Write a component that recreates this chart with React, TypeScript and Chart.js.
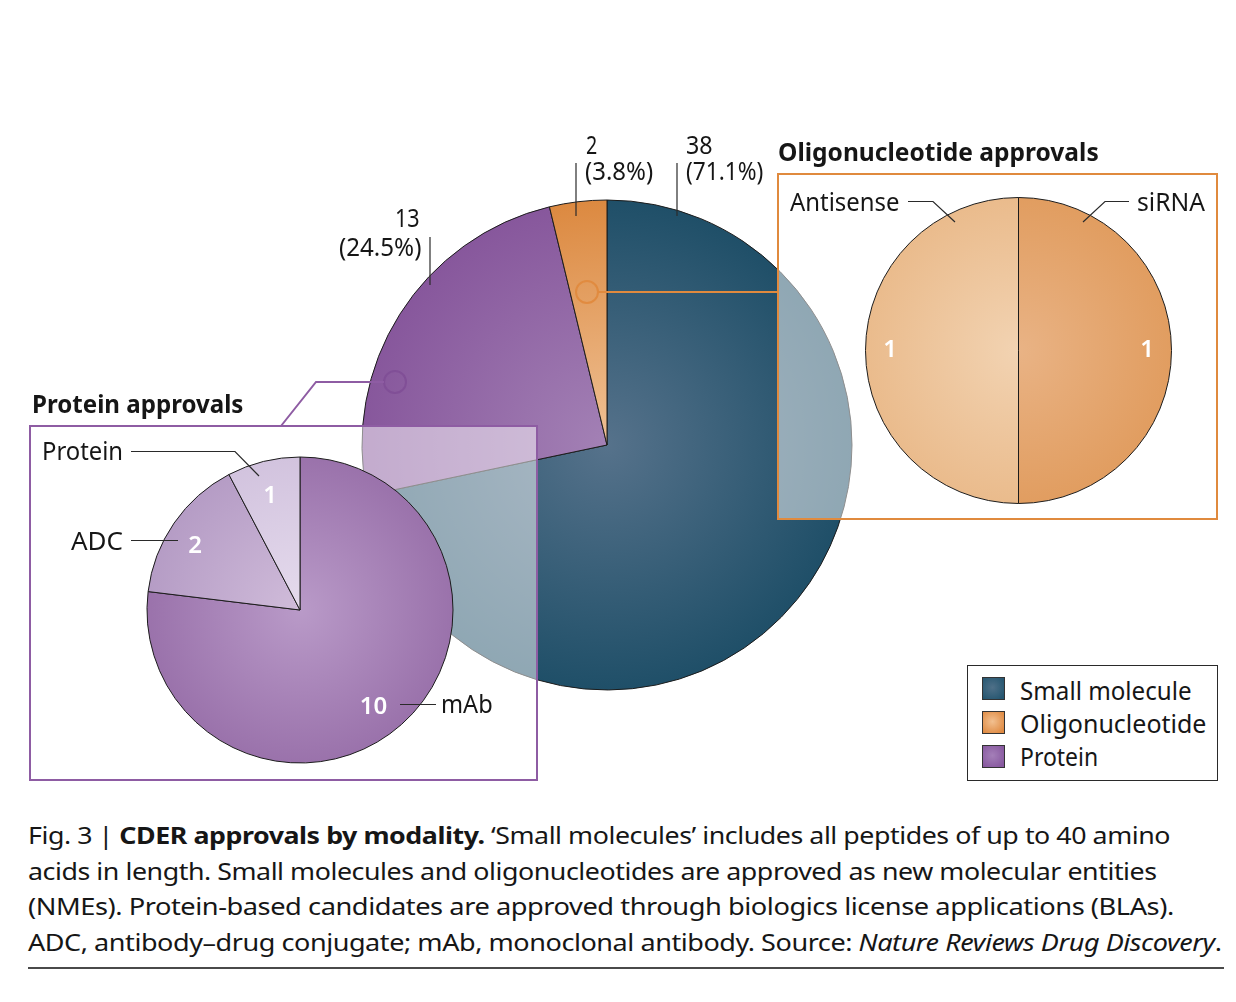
import React, { useEffect, useLayoutEffect, useRef } from "react";
import { Chart, registerables } from "chart.js";

Chart.register(...registerables);

// ---------------- data ----------------
const mainCategories = ["Small molecule", "Protein", "Oligonucleotide"];
const mainValues = [38, 13, 2];
const mainPercents = ["71.1", "24.5", "3.8"];

const proteinCategories = ["mAb", "ADC", "Protein"];
const proteinValues = [10, 2, 1];

const oligoCategories = ["siRNA", "Antisense"];
const oligoValues = [1, 1];

const legendCategories = ["Small molecule", "Oligonucleotide", "Protein"];

// ---------------- styles ----------------
const FONT = '"Noto Sans", "Open Sans", sans-serif';
const ORANGE = "#e08a3e";
const PURPLE = "#8e5ca3";
const LEADER = "#2a2a2a";

type Grad = [string, string];
const MAIN_GRADS: Grad[] = [
  ["#56728b", "#1f4f68"],
  ["#a381b5", "#87579c"],
  ["#efc195", "#dc8940"],
];
const PROTEIN_GRADS: Grad[] = [
  ["#b99ac8", "#9a72ab"],
  ["#d0bcda", "#b59cc5"],
  ["#e5dbed", "#d2c3de"],
];
const OLIGO_GRADS: Grad[] = [
  ["#e9b385", "#e19d60"],
  ["#f2d3b2", "#eabb8c"],
];

const LEGEND_GRADS: Record<string, Grad> = {
  "Small molecule": ["#4f7088", "#255670"],
  Oligonucleotide: ["#f2c090", "#df8a42"],
  Protein: ["#a47fb8", "#87589f"],
};

type Rect = [number, number, number, number];
type Pt = [number, number];

function polyline(ctx: CanvasRenderingContext2D, pts: Pt[], ox: number, oy: number, color: string, lw: number) {
  ctx.save();
  ctx.beginPath();
  pts.forEach(([x, y], i) => (i ? ctx.lineTo(x - ox, y - oy) : ctx.moveTo(x - ox, y - oy)));
  ctx.strokeStyle = color;
  ctx.lineWidth = lw;
  ctx.lineJoin = "miter";
  ctx.stroke();
  ctx.restore();
}

function ring(ctx: CanvasRenderingContext2D, x: number, y: number, r: number, ox: number, oy: number, color: string) {
  ctx.save();
  ctx.beginPath();
  ctx.arc(x - ox, y - oy, r, 0, Math.PI * 2);
  ctx.strokeStyle = color;
  ctx.lineWidth = 2;
  ctx.stroke();
  ctx.restore();
}

function boxDraw(ctx: CanvasRenderingContext2D, box: Rect, ox: number, oy: number, color: string) {
  ctx.save();
  ctx.fillStyle = "rgba(255,255,255,0.5)";
  ctx.fillRect(box[0] - ox, box[1] - oy, box[2], box[3]);
  ctx.strokeStyle = color;
  ctx.lineWidth = 2;
  ctx.strokeRect(box[0] - ox, box[1] - oy, box[2], box[3]);
  ctx.restore();
}

type PieProps = {
  rect: Rect;
  cx: number;
  cy: number;
  r: number;
  labels: string[];
  values: number[];
  grads: Grad[];
  z: number;
  before?: (ctx: CanvasRenderingContext2D, ox: number, oy: number) => void;
  after?: (ctx: CanvasRenderingContext2D, ox: number, oy: number) => void;
};

function PieCanvas({ rect, cx, cy, r, labels, values, grads, z, before, after }: PieProps) {
  const ref = useRef<HTMLCanvasElement>(null);
  const [bx, by, bw, bh] = rect;
  useEffect(() => {
    const canvas = ref.current!;
    const padding = {
      left: cx - r - 0.5 - bx,
      top: cy - r - 0.5 - by,
      right: bx + bw - (cx + r + 0.5),
      bottom: by + bh - (cy + r + 0.5),
    };
    const chart = new Chart(canvas, {
      type: "pie",
      data: {
        labels,
        datasets: [
          {
            data: values,
            backgroundColor: (c: any) => {
              const g = grads[c.dataIndex] || grads[0];
              const a = c.chart.chartArea;
              if (!a) return g[1];
              const x = (a.left + a.right) / 2;
              const y = (a.top + a.bottom) / 2;
              const rr = Math.min(a.right - a.left, a.bottom - a.top) / 2;
              const grad = c.chart.ctx.createRadialGradient(x, y, 0, x, y, rr);
              grad.addColorStop(0, g[0]);
              grad.addColorStop(1, g[1]);
              return grad;
            },
            borderColor: "#1c1c1c",
            borderWidth: 1,
            hoverBorderWidth: 1,
            hoverOffset: 0,
            offset: 0,
          } as any,
        ],
      },
      options: {
        responsive: false,
        maintainAspectRatio: false,
        animation: false,
        events: [],
        layout: { padding },
        plugins: { legend: { display: false }, tooltip: { enabled: false } },
      } as any,
      plugins: [
        {
          id: "deco",
          beforeDatasetsDraw(ch: any) {
            if (before) before(ch.ctx, bx, by);
          },
          afterDatasetsDraw(ch: any) {
            if (after) after(ch.ctx, bx, by);
          },
        },
      ],
    });
    return () => chart.destroy();
  }, []);
  return (
    <canvas
      ref={ref}
      width={bw}
      height={bh}
      style={{ position: "absolute", left: bx, top: by, width: bw, height: bh, zIndex: z }}
    />
  );
}

type TxtProps = {
  x: number;
  y: number;
  w?: number;
  size?: number;
  weight?: number;
  color?: string;
  center?: boolean;
  spacing?: number;
  children: React.ReactNode;
};

function Txt({ x, y, w, size = 24, weight = 400, color = "#161616", center = false, spacing = 0, children }: TxtProps) {
  const ref = useRef<HTMLDivElement>(null);
  useLayoutEffect(() => {
    const fit = () => {
      const el = ref.current;
      if (!el || !w) return;
      const nat = el.offsetWidth;
      if (nat > 0) el.style.transform = `translateY(-50%) scaleX(${w / nat})`;
    };
    fit();
    const f: any = (document as any).fonts;
    if (f && f.ready) f.ready.then(fit);
  }, [w]);
  return (
    <div
      ref={ref}
      style={{
        position: "absolute",
        left: x,
        top: y - 0.75,
        fontFamily: FONT,
        fontSize: size,
        fontWeight: weight,
        color,
        lineHeight: 1,
        letterSpacing: spacing,
        whiteSpace: "nowrap",
        transform: center ? "translate(-50%,-50%)" : "translateY(-50%)",
        transformOrigin: "0 50%",
        zIndex: 5,
      }}
    >
      {children}
    </div>
  );
}

// ---------------- layout ----------------
const MAIN = { cx: 607, cy: 445, r: 245 };
const PROT_BOX: Rect = [30, 426, 507, 354];
const PROT = { cx: 300, cy: 610, r: 153 };
const OLIG_BOX: Rect = [778, 174, 439, 345];
const OLIG = { cx: 1018.5, cy: 350.5, r: 153 };

const grow = (b: Rect): Rect => [b[0] - 3, b[1] - 3, b[2] + 6, b[3] + 6];

export default function App() {
  const mi = (name: string) => mainCategories.indexOf(name);
  const pi = (name: string) => proteinCategories.indexOf(name);
  const oi = (name: string) => oligoCategories.indexOf(name);

  return (
    <div
      style={{
        position: "absolute",
        left: 0,
        top: 0,
        width: 1236,
        height: 1002,
        background: "#ffffff",
        overflow: "hidden",
        fontFamily: FONT,
      }}
    >
      {/* main pie */}
      <PieCanvas
        rect={[0, 0, 1236, 800]}
        cx={MAIN.cx}
        cy={MAIN.cy}
        r={MAIN.r}
        labels={mainCategories}
        values={mainValues}
        grads={MAIN_GRADS}
        z={1}
        after={(ctx, ox, oy) => {
          polyline(ctx, [[576, 163], [576, 216]], ox, oy, LEADER, 1.2);
          polyline(ctx, [[677, 163], [677, 216]], ox, oy, LEADER, 1.2);
          polyline(ctx, [[430, 237], [430, 285]], ox, oy, LEADER, 1.2);
          ring(ctx, 587, 292, 11, ox, oy, "rgba(224,138,62,0.95)");
          polyline(ctx, [[598, 292], [778, 292]], ox, oy, ORANGE, 2);
          ring(ctx, 395, 382, 11, ox, oy, "rgba(128,78,150,0.9)");
          polyline(ctx, [[384, 382], [316, 382], [281, 426]], ox, oy, PURPLE, 2);
        }}
      />

      {/* protein inset */}
      <PieCanvas
        rect={grow(PROT_BOX)}
        cx={PROT.cx}
        cy={PROT.cy}
        r={PROT.r}
        labels={proteinCategories}
        values={proteinValues}
        grads={PROTEIN_GRADS}
        z={2}
        before={(ctx, ox, oy) => boxDraw(ctx, PROT_BOX, ox, oy, PURPLE)}
        after={(ctx, ox, oy) => {
          polyline(ctx, [[131, 451.5], [235, 451.5], [259, 476]], ox, oy, LEADER, 1.2);
          polyline(ctx, [[131, 540.5], [178, 540.5]], ox, oy, LEADER, 1.2);
          polyline(ctx, [[400, 704.5], [436, 704.5]], ox, oy, LEADER, 1.2);
        }}
      />

      {/* oligonucleotide inset */}
      <PieCanvas
        rect={grow(OLIG_BOX)}
        cx={OLIG.cx}
        cy={OLIG.cy}
        r={OLIG.r}
        labels={oligoCategories}
        values={oligoValues}
        grads={OLIGO_GRADS}
        z={2}
        before={(ctx, ox, oy) => boxDraw(ctx, OLIG_BOX, ox, oy, ORANGE)}
        after={(ctx, ox, oy) => {
          polyline(ctx, [[908, 201.5], [933, 201.5], [955, 222]], ox, oy, LEADER, 1.2);
          polyline(ctx, [[1129, 201.5], [1105, 201.5], [1083, 222]], ox, oy, LEADER, 1.2);
        }}
      />

      {/* main pie labels */}
      <Txt x={395} y={217.5} w={25} size={25}>{mainValues[mi("Protein")]}</Txt>
      <Txt x={339} y={247} w={82} size={25}>({mainPercents[mi("Protein")]}%)</Txt>
      <Txt x={586} y={145} w={11} size={25}>{mainValues[mi("Oligonucleotide")]}</Txt>
      <Txt x={585} y={171} w={68} size={25}>({mainPercents[mi("Oligonucleotide")]}%)</Txt>
      <Txt x={686} y={145} w={27} size={25}>{mainValues[mi("Small molecule")]}</Txt>
      <Txt x={686} y={171} w={77} size={25}>({mainPercents[mi("Small molecule")]}%)</Txt>

      {/* inset titles */}
      <Txt x={778} y={152} w={321} weight={700} size={25}>Oligonucleotide approvals</Txt>
      <Txt x={32} y={404} w={211} weight={700} size={25}>Protein approvals</Txt>

      {/* oligo labels */}
      <Txt x={790} y={202} w={110} size={25}>{oligoCategories[oi("Antisense")]}</Txt>
      <Txt x={1137} y={202} w={68} size={25}>{oligoCategories[oi("siRNA")]}</Txt>
      <Txt x={890} y={348.5} center color="#ffffff" weight={600}>{oligoValues[oi("Antisense")]}</Txt>
      <Txt x={1147} y={348.5} center color="#ffffff" weight={600}>{oligoValues[oi("siRNA")]}</Txt>

      {/* protein labels */}
      <Txt x={42} y={450.5} w={81} size={25}>{proteinCategories[pi("Protein")]}</Txt>
      <Txt x={71} y={540.5} w={52} size={25}>{proteinCategories[pi("ADC")]}</Txt>
      <Txt x={441} y={704} w={52} size={25}>{proteinCategories[pi("mAb")]}</Txt>
      <Txt x={270} y={495} center color="#ffffff" weight={600}>{proteinValues[pi("Protein")]}</Txt>
      <Txt x={195} y={544.5} center color="#ffffff" weight={600}>{proteinValues[pi("ADC")]}</Txt>
      <Txt x={373.5} y={706} center color="#ffffff" weight={600}>{proteinValues[pi("mAb")]}</Txt>

      {/* legend */}
      <div
        style={{
          position: "absolute",
          left: 967,
          top: 665,
          width: 249,
          height: 114,
          border: "1px solid #2a2a2a",
          zIndex: 2,
          background: "#fff",
        }}
      />
      {legendCategories.map((c, i) => (
        <div
          key={c}
          style={{
            position: "absolute",
            left: 982,
            top: 677 + i * 34,
            width: 21,
            height: 21,
            border: "1px solid #333",
            background: `radial-gradient(circle at 45% 45%, ${LEGEND_GRADS[c][0]} 0%, ${LEGEND_GRADS[c][1]} 85%)`,
            zIndex: 3,
          }}
        />
      ))}
      <Txt x={1020} y={691} w={172} size={25}>{legendCategories[0]}</Txt>
      <Txt x={1020} y={724} w={186} size={25}>{legendCategories[1]}</Txt>
      <Txt x={1020} y={757} w={78} size={25}>{legendCategories[2]}</Txt>

      {/* caption */}
      <Txt x={28} y={836} w={1142} size={24} spacing={-0.4}>
        Fig. 3 | <span style={{ fontWeight: 700 }}>CDER approvals by modality.</span> ‘Small molecules’ includes all peptides of up to 40 amino
      </Txt>
      <Txt x={28} y={871.5} w={1129} size={24} spacing={-0.4}>
        acids in length. Small molecules and oligonucleotides are approved as new molecular entities
      </Txt>
      <Txt x={28} y={907} w={1146} size={24} spacing={-0.4}>
        (NMEs). Protein-based candidates are approved through biologics license applications (BLAs).
      </Txt>
      <Txt x={28} y={942.5} w={1194} size={24} spacing={-0.4}>
        ADC, antibody–drug conjugate; mAb, monoclonal antibody. Source: <i>Nature Reviews Drug Discovery</i>.
      </Txt>
      <div
        style={{
          position: "absolute",
          left: 28,
          top: 967,
          width: 1196,
          height: 2,
          background: "#4a4a4a",
        }}
      />
    </div>
  );
}
